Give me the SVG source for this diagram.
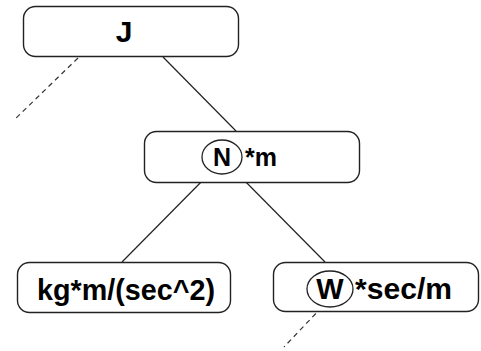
<svg xmlns="http://www.w3.org/2000/svg" width="481" height="351" viewBox="0 0 481 351">
<style>
.box{fill:#fff;stroke:#222;stroke-width:1.4}
.ring{fill:none;stroke:#222;stroke-width:1.3}
.ln{stroke:#222;stroke-width:1.2;fill:none}
.dash{stroke:#333;stroke-width:1.2;fill:none;stroke-dasharray:5 4}
text{font-family:"Liberation Sans",Arial,sans-serif;font-weight:bold;fill:#000}
</style>
<rect width="481" height="351" fill="#fff"/>
<g id="connectors">
<line class="ln" x1="163" y1="57" x2="236" y2="131"/>
<line class="dash" x1="78" y1="58" x2="14" y2="120"/>
<line class="ln" x1="211" y1="172" x2="122" y2="262"/>
<line class="ln" x1="236" y1="172" x2="325" y2="262"/>
<line class="dash" x1="322" y1="307" x2="284" y2="347"/>
</g>
<g id="node-J">
<rect class="box" x="23.5" y="6.5" width="215" height="50" rx="12"/>
<text x="124" y="42" font-size="30" text-anchor="middle">J</text>
</g>
<g id="node-N">
<rect class="box" x="144.5" y="131.5" width="215" height="51" rx="12"/>
<ellipse class="ring" cx="222" cy="157" rx="20" ry="17"/>
<text x="222" y="166" font-size="25" text-anchor="middle">N</text>
<text x="245" y="166" font-size="25">*m</text>
</g>
<g id="node-kg">
<rect class="box" x="17.5" y="262.5" width="213" height="50" rx="12"/>
<text x="126" y="300" font-size="29" text-anchor="middle" textLength="178" lengthAdjust="spacingAndGlyphs">kg*m/(sec^2)</text>
</g>
<g id="node-W">
<rect class="box" x="273.5" y="262.5" width="205" height="49" rx="12"/>
<ellipse class="ring" cx="330" cy="289" rx="23" ry="18"/>
<text x="330" y="299" font-size="29" text-anchor="middle">W</text>
<text x="355" y="299" font-size="29" textLength="97" lengthAdjust="spacingAndGlyphs">*sec/m</text>
</g>
</svg>
